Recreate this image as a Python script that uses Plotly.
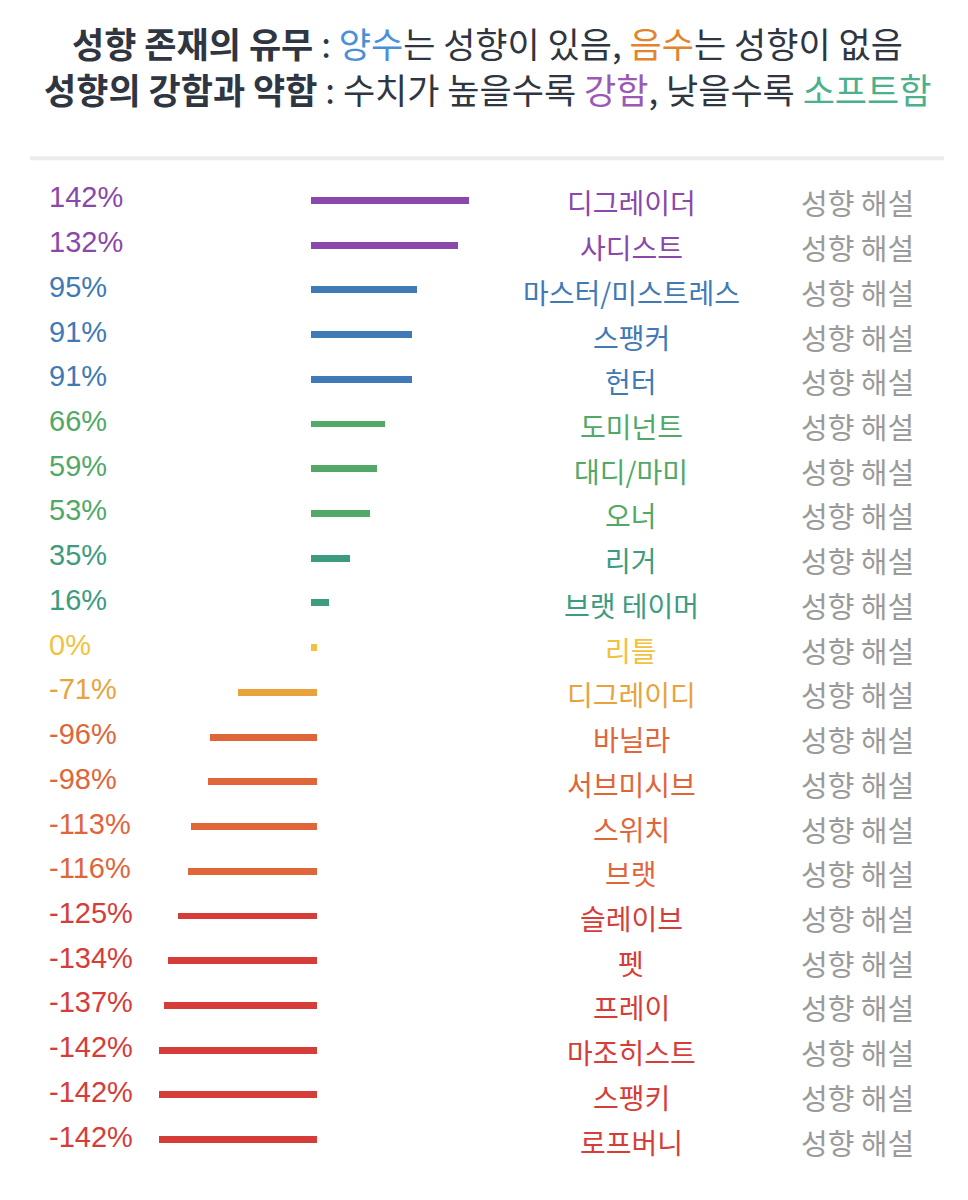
import plotly.graph_objects as go

names = ["디그레이더", "사디스트", "마스터/미스트레스", "스팽커", "헌터", "도미넌트", "대디/마미",
         "오너", "리거", "브랫 테이머", "리틀", "디그레이디", "바닐라", "서브미시브", "스위치",
         "브랫", "슬레이브", "펫", "프레이", "마조히스트", "스팽키", "로프버니"]
values = [142, 132, 95, 91, 91, 66, 59, 53, 35, 16, 0, -71, -96, -98, -113, -116,
          -125, -134, -137, -142, -142, -142]
pct_labels = [f"{v}%" for v in values]
link_label = "성향 해설"

PURPLE, BLUE, GREEN, TEAL = "#8a48aa", "#3f7ab6", "#52a866", "#3d9b80"
YELLOW, AMBER, ORANGE, RED = "#f2c23e", "#e8a33d", "#e0663a", "#d63c38"
row_colors = [PURPLE, PURPLE, BLUE, BLUE, BLUE, GREEN, GREEN, GREEN, TEAL, TEAL,
              YELLOW, AMBER, ORANGE, ORANGE, ORANGE, ORANGE, RED, RED, RED, RED, RED, RED]

W, H = 968, 1200
ZERO_PX = 311.0
PX_PER = 1.115
GAP = 6 / PX_PER  # minimum stub width in data units

rows = list(range(len(values)))
lengths = [v if v != 0 else GAP for v in values]
bases = [GAP if v < 0 else 0 for v in values]

row_px = 44.73
first_px = 200.0
top_px = first_px - row_px / 2
bottom_px = first_px + (len(values) - 0.5) * row_px
plot_h = bottom_px - top_px


def py(ypx):
    """pixel row from top of page -> paper y coordinate"""
    return (bottom_px - ypx) / plot_h


fig = go.Figure()
fig.add_trace(go.Bar(
    y=rows, x=lengths, base=bases, orientation="h",
    marker=dict(color=row_colors, line=dict(width=0)),
    width=0.155, hoverinfo="skip", showlegend=False,
))

annotations = []
for i, (lab, nm, c) in enumerate(zip(pct_labels, names, row_colors)):
    annotations.append(dict(x=47 / W, y=i, xref="paper", yref="y", text=lab,
                            xanchor="left", yanchor="middle", showarrow=False,
                            yshift=3,
                            font=dict(family="Liberation Sans, Arial", size=29, color=c)))
    annotations.append(dict(x=631 / W, y=i, xref="paper", yref="y", text=nm,
                            xanchor="center", yanchor="middle", showarrow=False,
                            yshift=-2,
                            font=dict(family="Noto Sans CJK KR", size=28, color=c)))
    annotations.append(dict(x=857 / W, y=i, xref="paper", yref="y", text=link_label,
                            xanchor="center", yanchor="middle", showarrow=False,
                            yshift=-2,
                            font=dict(family="Noto Sans CJK KR", size=29, color="#9a9a9a")))

DARK = "#2f3642"
title1 = ("<b>성향 존재의 유무</b> : <span style='color:#4a90d9'>양수</span>는 성향이 있음, "
          "<span style='color:#e3842c'>음수</span>는 성향이 없음")
title2 = ("<b>성향의 강함과 약함</b> : 수치가 높을수록 <span style='color:#9b59b6'>강함</span>, "
          "낮을수록 <span style='color:#4bb08c'>소프트함</span>")
for txt, ypx in [(title1, 42), (title2, 88)]:
    annotations.append(dict(x=487 / W, y=py(ypx), xref="paper", yref="paper", text=txt,
                            xanchor="center", yanchor="middle", showarrow=False,
                            font=dict(family="Noto Sans CJK KR", size=35, color=DARK)))

fig.update_layout(
    width=W, height=H,
    margin=dict(l=0, r=0, t=top_px, b=H - bottom_px, pad=0),
    paper_bgcolor="white", plot_bgcolor="white",
    xaxis=dict(range=[-ZERO_PX / PX_PER, (W - ZERO_PX) / PX_PER], visible=False, fixedrange=True),
    yaxis=dict(range=[len(values) - 0.5, -0.5], visible=False, fixedrange=True),
    annotations=annotations,
    shapes=[dict(type="line", xref="paper", yref="paper",
                 x0=30 / W, x1=944 / W, y0=py(158), y1=py(158),
                 line=dict(color="#ececec", width=4))],
    bargap=0,
)

fig.write_html("out.html")
